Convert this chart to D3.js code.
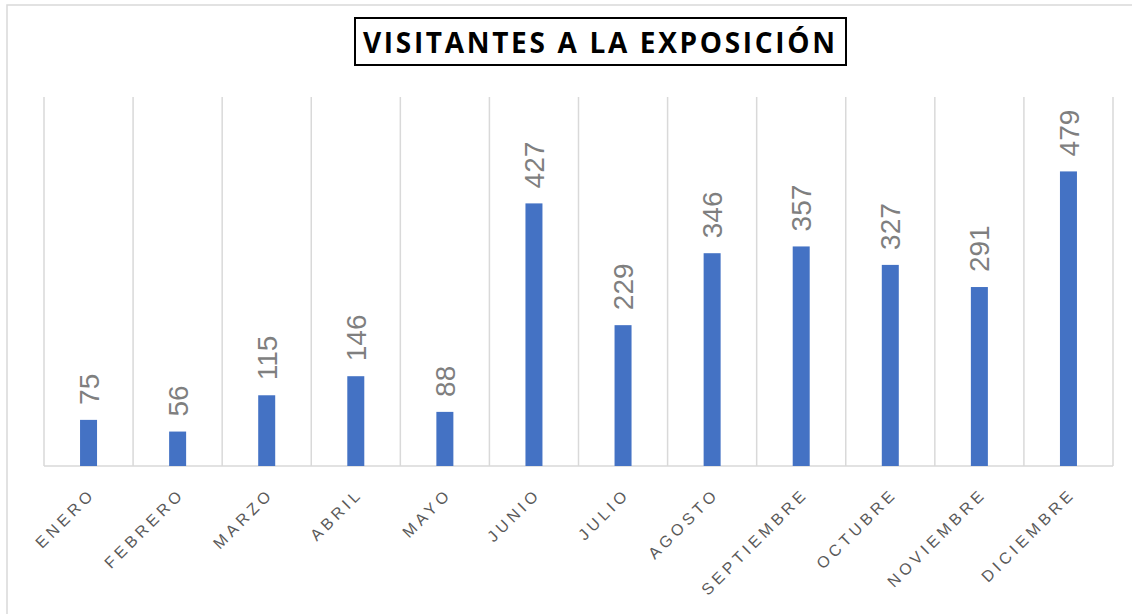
<!DOCTYPE html>
<head>
  <meta charset="utf-8">
  <script src="https://d3js.org/d3.v7.min.js"></script>
  <style>
    body { margin: 0; background: white; }
    svg { display: block; overflow: hidden; }
  </style>
</head>

<body>
  <svg width="1132" height="614"></svg>

  <script>
    const months = ['ENERO', 'FEBRERO', 'MARZO', 'ABRIL', 'MAYO', 'JUNIO',
      'JULIO', 'AGOSTO', 'SEPTIEMBRE', 'OCTUBRE', 'NOVIEMBRE', 'DICIEMBRE'];
    const visitors = [75, 56, 115, 146, 88, 427, 229, 346, 357, 327, 291, 479];
    const title = 'VISITANTES A LA EXPOSICIÓN';

    const svg = d3.select('svg');
    const width = +svg.attr('width');
    const height = +svg.attr('height');

    // chart frame, right and bottom edges fall outside the picture
    svg.append('rect')
      .attr('x', 7).attr('y', 5)
      .attr('width', width).attr('height', height)
      .attr('fill', 'none')
      .attr('stroke', '#d9d9d9')
      .attr('stroke-width', 1.5);

    const plotL = 44, plotR = 1113, plotT = 97, base = 466;

    const x = d3.scaleBand().domain(months).range([plotL, plotR]);
    const y = d3.scaleLinear().domain([0, 600]).range([base, plotT]);
    const barW = 17;

    const g = svg.append('g');

    // vertical gridlines at category edges
    const edges = months.map(m => x(m)).concat([plotR]);
    g.selectAll('.grid')
      .data(edges)
      .enter().append('line')
      .attr('class', 'grid')
      .attr('x1', d => d).attr('x2', d => d)
      .attr('y1', plotT).attr('y2', base)
      .attr('stroke', '#d9d9d9')
      .attr('stroke-width', 1.5);

    g.append('line')
      .attr('x1', plotL).attr('x2', plotR)
      .attr('y1', base).attr('y2', base)
      .attr('stroke', '#d9d9d9')
      .attr('stroke-width', 1.5);

    g.selectAll('.bar')
      .data(visitors)
      .enter().append('rect')
      .attr('class', 'bar')
      .attr('fill', '#4472c4')
      .attr('x', (v, i) => x(months[i]) + x.bandwidth() / 2 - barW / 2)
      .attr('y', v => y(v))
      .attr('width', barW)
      .attr('height', v => base - y(v));

    // value labels, rotated
    g.selectAll('.val')
      .data(visitors)
      .enter().append('text')
      .attr('class', 'val')
      .attr('transform', (v, i) =>
        `translate(${x(months[i]) + x.bandwidth() / 2},${y(v) - 15}) rotate(-90)`)
      .attr('dy', '0.36em')
      .attr('font-family', 'Liberation Sans, Arial, sans-serif')
      .attr('font-size', 28)
      .attr('fill', '#7f7f7f')
      .text(v => v);

    // category labels at -45 degrees
    g.selectAll('.cat')
      .data(months)
      .enter().append('text')
      .attr('class', 'cat')
      .attr('transform', m =>
        `translate(${x(m) + x.bandwidth() / 2},${base + 21}) rotate(-45)`)
      .attr('text-anchor', 'end')
      .attr('dy', '0.7em')
      .attr('font-family', 'Liberation Sans, Arial, sans-serif')
      .attr('font-size', 16)
      .attr('letter-spacing', 4)
      .attr('fill', '#595959')
      .text(m => m);

    // title in a box
    svg.append('rect')
      .attr('x', 355).attr('y', 18)
      .attr('width', 491).attr('height', 47)
      .attr('fill', 'white')
      .attr('stroke', 'black')
      .attr('stroke-width', 2);

    svg.append('text')
      .attr('x', 599).attr('y', 53)
      .attr('text-anchor', 'middle')
      .attr('font-family', 'Open Sans, sans-serif')
      .attr('font-weight', 'bold')
      .attr('font-size', 28)
      .attr('textLength', 472)
      .attr('lengthAdjust', 'spacing')
      .attr('fill', 'black')
      .text(title);
  </script>
</body>
